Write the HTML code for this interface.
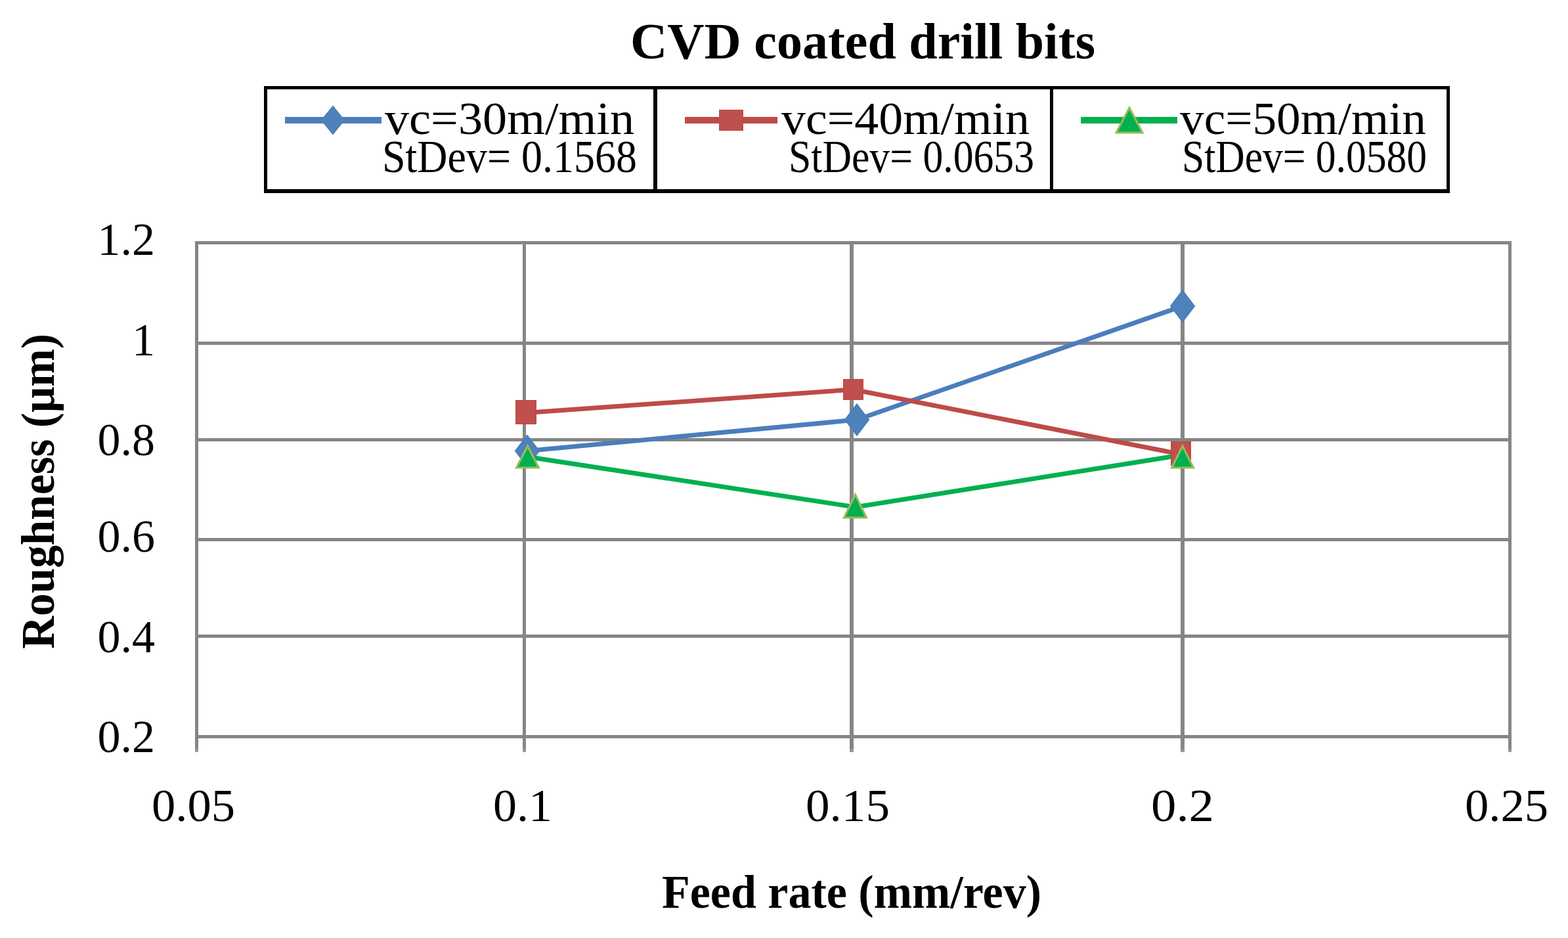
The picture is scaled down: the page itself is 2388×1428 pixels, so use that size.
<!DOCTYPE html>
<html><head><meta charset="utf-8"><title>CVD coated drill bits</title>
<style>html,body{margin:0;padding:0;background:#fff;} body{width:2388px;height:1428px;overflow:hidden;} svg{display:block;}</style>
</head><body>
<svg width="2388" height="1428" viewBox="0 0 2388 1428">
<rect x="0" y="0" width="2388" height="1428" fill="#ffffff"/>
<g fill="#868686" shape-rendering="crispEdges">
<rect x="297" y="367" width="2005" height="5"/>
<rect x="297" y="520" width="2005" height="5"/>
<rect x="297" y="667" width="2005" height="5"/>
<rect x="297" y="819" width="2005" height="5"/>
<rect x="297" y="966" width="2005" height="5"/>
<rect x="297" y="1119" width="2005" height="5"/>
<rect x="297" y="367" width="5" height="773"/>
<rect x="796" y="367" width="5" height="773"/>
<rect x="1294" y="367" width="6" height="773"/>
<rect x="1798" y="367" width="6" height="773"/>
<rect x="2297" y="367" width="5" height="773"/>
</g>
<g fill="#989898" shape-rendering="crispEdges">
<rect x="297" y="1140" width="5" height="5"/>
<rect x="796" y="1140" width="5" height="5"/>
<rect x="1294" y="1140" width="6" height="5"/>
<rect x="1798" y="1140" width="6" height="5"/>
<rect x="2297" y="1140" width="5" height="5"/>
</g>
<polyline points="803,686.5 1305,639 1801,466" fill="none" stroke="#4A7EBB" stroke-width="7" stroke-linejoin="round"/>
<polyline points="801,628.5 1299.5,593 1798.5,691.5" fill="none" stroke="#BE4B48" stroke-width="7" stroke-linejoin="round"/>
<polyline points="803.5,695.5 1302.5,772 1801,692.5" fill="none" stroke="#00B050" stroke-width="7" stroke-linejoin="round"/>
<polygon points="803,663.0 821.0,686.5 803,710.0 785.0,686.5" fill="#4F81BD" stroke="#4A7EBB" stroke-width="2"/>
<polygon points="1305,615.5 1323.0,639 1305,662.5 1287.0,639" fill="#4F81BD" stroke="#4A7EBB" stroke-width="2"/>
<polygon points="1801,442.5 1819.0,466 1801,489.5 1783.0,466" fill="#4F81BD" stroke="#4A7EBB" stroke-width="2"/>
<rect x="786" y="610" width="30" height="35" fill="#C0504D" stroke="#BE4B48" stroke-width="2"/>
<rect x="1285" y="578" width="29" height="30" fill="#C0504D" stroke="#BE4B48" stroke-width="2"/>
<rect x="1784" y="673" width="29" height="35" fill="#C0504D" stroke="#BE4B48" stroke-width="2"/>
<polygon points="803.5,679 820.5,712 786.5,712" fill="#00B050" stroke="#9BBB59" stroke-width="3" stroke-linejoin="miter"/>
<polygon points="1302.5,753 1319.5,788 1285.5,788" fill="#00B050" stroke="#9BBB59" stroke-width="3" stroke-linejoin="miter"/>
<polygon points="1801,679 1817.5,712 1784.5,712" fill="#00B050" stroke="#9BBB59" stroke-width="3" stroke-linejoin="miter"/>
<g fill="#000" shape-rendering="crispEdges">
<rect x="402" y="131" width="1806" height="5"/>
<rect x="402" y="288" width="1806" height="6"/>
<rect x="402" y="131" width="5" height="163"/>
<rect x="2203" y="131" width="5" height="163"/>
<rect x="995" y="131" width="6" height="163"/>
<rect x="1599" y="131" width="5" height="163"/>
</g>
<rect x="434" y="178" width="147" height="10" fill="#4A7EBB" shape-rendering="crispEdges"/>
<polygon points="507,162.0 524.0,183 507,204.0 490.0,183" fill="#4F81BD" stroke="#4A7EBB" stroke-width="2"/>
<rect x="1043" y="178" width="141" height="10" fill="#BE4B48" shape-rendering="crispEdges"/>
<rect x="1096" y="168" width="35" height="30" fill="#C0504D" stroke="#BE4B48" stroke-width="2"/>
<rect x="1646" y="178" width="147" height="10" fill="#00B050" shape-rendering="crispEdges"/>
<polygon points="1720,164 1740.0,202 1700.0,202" fill="#00B050" stroke="#9BBB59" stroke-width="3" stroke-linejoin="miter"/>
<text x="960" y="89" style="font-family:'Liberation Serif','Times New Roman',serif;font-size:78px;font-weight:bold" text-anchor="start" textLength="708" lengthAdjust="spacingAndGlyphs">CVD coated drill bits</text>
<text x="586" y="204" style="font-family:'Liberation Serif','Times New Roman',serif;font-size:70px;font-weight:normal" text-anchor="start" textLength="380" lengthAdjust="spacingAndGlyphs">vc=30m/min</text>
<text x="582" y="262" style="font-family:'Liberation Serif','Times New Roman',serif;font-size:70px;font-weight:normal" text-anchor="start" textLength="388" lengthAdjust="spacingAndGlyphs">StDev= 0.1568</text>
<text x="1190" y="204" style="font-family:'Liberation Serif','Times New Roman',serif;font-size:70px;font-weight:normal" text-anchor="start" textLength="378" lengthAdjust="spacingAndGlyphs">vc=40m/min</text>
<text x="1201" y="262" style="font-family:'Liberation Serif','Times New Roman',serif;font-size:70px;font-weight:normal" text-anchor="start" textLength="374" lengthAdjust="spacingAndGlyphs">StDev= 0.0653</text>
<text x="1797" y="204" style="font-family:'Liberation Serif','Times New Roman',serif;font-size:70px;font-weight:normal" text-anchor="start" textLength="375" lengthAdjust="spacingAndGlyphs">vc=50m/min</text>
<text x="1800" y="262" style="font-family:'Liberation Serif','Times New Roman',serif;font-size:70px;font-weight:normal" text-anchor="start" textLength="373" lengthAdjust="spacingAndGlyphs">StDev= 0.0580</text>
<text x="236" y="388" style="font-family:'Liberation Serif','Times New Roman',serif;font-size:70px;font-weight:normal" text-anchor="end">1.2</text>
<text x="236" y="541" style="font-family:'Liberation Serif','Times New Roman',serif;font-size:70px;font-weight:normal" text-anchor="end">1</text>
<text x="236" y="693" style="font-family:'Liberation Serif','Times New Roman',serif;font-size:70px;font-weight:normal" text-anchor="end">0.8</text>
<text x="236" y="840" style="font-family:'Liberation Serif','Times New Roman',serif;font-size:70px;font-weight:normal" text-anchor="end">0.6</text>
<text x="236" y="993" style="font-family:'Liberation Serif','Times New Roman',serif;font-size:70px;font-weight:normal" text-anchor="end">0.4</text>
<text x="236" y="1145" style="font-family:'Liberation Serif','Times New Roman',serif;font-size:70px;font-weight:normal" text-anchor="end">0.2</text>
<text x="231" y="1250" style="font-family:'Liberation Serif','Times New Roman',serif;font-size:70px;font-weight:normal" text-anchor="start" textLength="127" lengthAdjust="spacingAndGlyphs">0.05</text>
<text x="751" y="1250" style="font-family:'Liberation Serif','Times New Roman',serif;font-size:70px;font-weight:normal" text-anchor="start" textLength="90" lengthAdjust="spacingAndGlyphs">0.1</text>
<text x="1227" y="1250" style="font-family:'Liberation Serif','Times New Roman',serif;font-size:70px;font-weight:normal" text-anchor="start" textLength="128" lengthAdjust="spacingAndGlyphs">0.15</text>
<text x="1753" y="1250" style="font-family:'Liberation Serif','Times New Roman',serif;font-size:70px;font-weight:normal" text-anchor="start" textLength="96" lengthAdjust="spacingAndGlyphs">0.2</text>
<text x="2231" y="1250" style="font-family:'Liberation Serif','Times New Roman',serif;font-size:70px;font-weight:normal" text-anchor="start" textLength="127" lengthAdjust="spacingAndGlyphs">0.25</text>
<text x="1008" y="1382" style="font-family:'Liberation Serif','Times New Roman',serif;font-size:71px;font-weight:bold" text-anchor="start" textLength="578" lengthAdjust="spacingAndGlyphs">Feed rate (mm/rev)</text>
<g transform="translate(82,987) rotate(-90)"><text x="-1" y="0" style="font-family:'Liberation Serif','Times New Roman',serif;font-size:71px;font-weight:bold" text-anchor="start" textLength="480" lengthAdjust="spacingAndGlyphs">Roughness (μm)</text></g>
</svg>
</body></html>
